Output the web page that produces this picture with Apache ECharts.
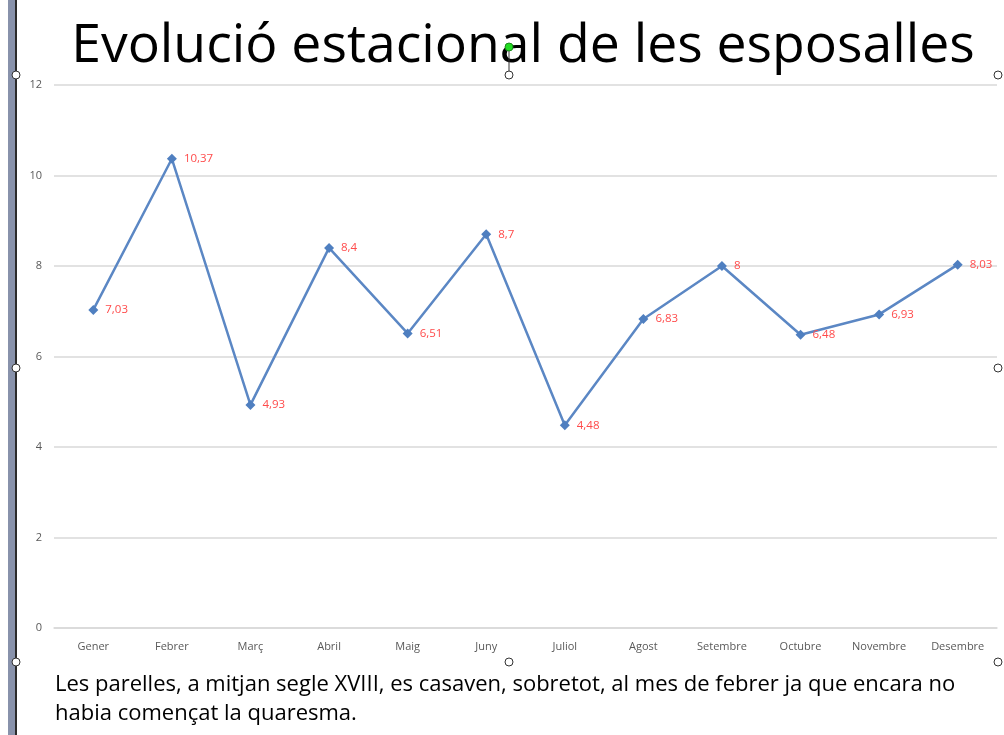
<!DOCTYPE html>
<html><head><meta charset="utf-8">
<script src="https://cdn.jsdelivr.net/npm/echarts@6/dist/echarts.min.js"></script>
<style>html,body{margin:0;padding:0;background:#fff}#c{width:1004px;height:735px}</style>
</head><body><div id="c"></div>
<script>
const categories = ['Gener','Febrer','Març','Abril','Maig','Juny','Juliol','Agost','Setembre','Octubre','Novembre','Desembre'];
const values = [7.03, 10.37, 4.93, 8.4, 6.51, 8.7, 4.48, 6.83, 8, 6.48, 6.93, 8.03];
const titleText = 'Evolució estacional de les esposalles';
const captionLines = ['Les parelles, a mitjan segle XVIII, es casaven, sobretot, al mes de febrer ja que encara no', 'habia començat la quaresma.'];

const chart = echarts.init(document.getElementById('c'));
const handle = (x, y) => ({type:'circle', shape:{cx:x, cy:y, r:4}, style:{fill:'#fff', stroke:'#333', lineWidth:1}, z:100});
chart.setOption({
  animation:false,
  title:{text:titleText, left:518, top:15, textAlign:'center',
    textStyle:{fontFamily:'Open Sans', fontSize:53.5, fontWeight:'normal', color:'#000'}},
  grid:{left:54, right:7, top:85, bottom:107},
  xAxis:{type:'category', data:categories, boundaryGap:true,
    axisLine:{show:true, lineStyle:{color:'#d9d9d9', width:1.5}}, axisTick:{show:false},
    axisLabel:{color:'#595959', fontFamily:'Open Sans', fontSize:11, margin:13}},
  yAxis:{type:'value', min:0, max:12, interval:2,
    axisLine:{show:false}, axisTick:{show:false},
    axisLabel:{color:'#595959', fontFamily:'Open Sans', fontSize:11, margin:12},
    splitLine:{lineStyle:{color:'#d9d9d9', width:1.5}}},
  series:[{type:'line', data:values, symbol:'diamond', symbolSize:10,
    lineStyle:{color:'#5b87c4', width:2.5}, itemStyle:{color:'#4f7fc0'},
    label:{show:true, position:'right', distance:7, offset:[0,0], color:'#ff4b4b', fontFamily:'Open Sans', fontSize:11.5,
      formatter:p => String(p.value).replace('.', ',')}}],
  graphic:[
    {type:'rect', shape:{x:8, y:0, width:7, height:735}, style:{fill:'#8892ab'}, z:90},
    {type:'rect', shape:{x:15, y:0, width:2, height:735}, style:{fill:'#2b2b2b'}, z:90},
    {type:'text', left:55, top:670, style:{text:captionLines.join('\n'), fontFamily:'Open Sans', fontSize:22, lineHeight:29, fill:'#000'}, z:50},
    {type:'line', shape:{x1:509, y1:49, x2:509, y2:72}, style:{stroke:'#333', lineWidth:1}, z:100},
    {type:'circle', shape:{cx:509, cy:47, r:4}, style:{fill:'#22dd22', stroke:'#1a8a1a', lineWidth:1}, z:101},
    handle(16,75), handle(509,75), handle(998,75),
    handle(16,368), handle(998,368),
    handle(16,662), handle(509,662), handle(998,662)
  ]
});
</script></body></html>
